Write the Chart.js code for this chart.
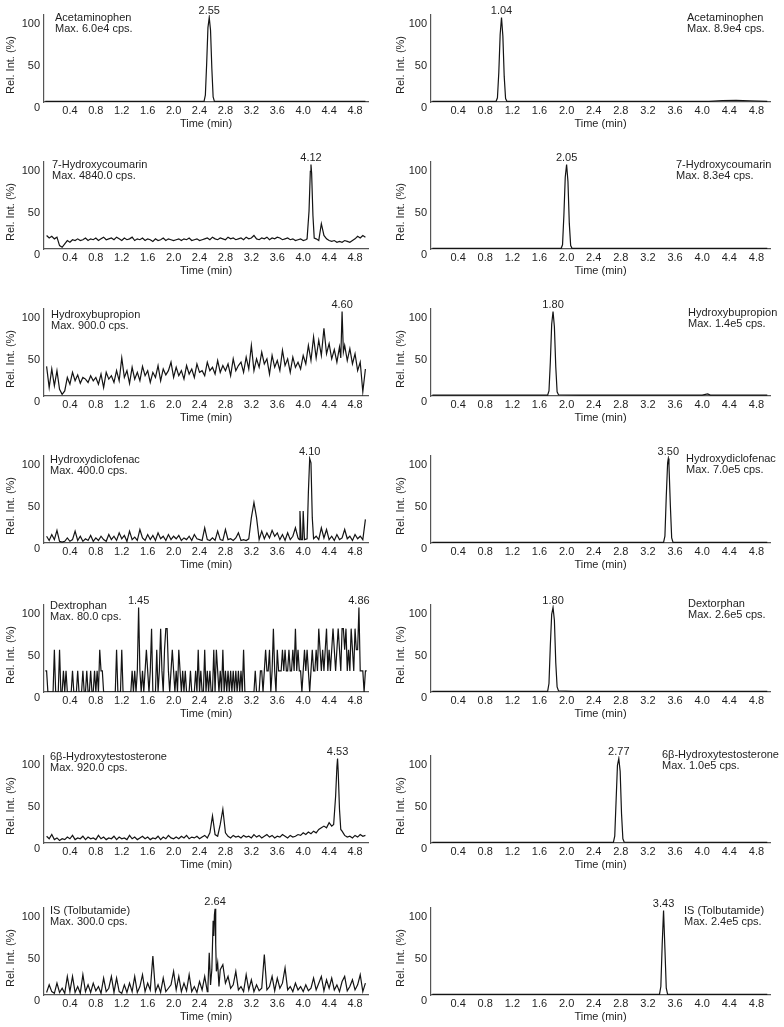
<!DOCTYPE html>
<html>
<head>
<meta charset="utf-8">
<script src="https://cdn.jsdelivr.net/npm/chart.js@4.4.0/dist/chart.umd.min.js"></script>
<style>
html, body { margin: 0; padding: 0; background: #fff; overflow: hidden; }
#wrap { position: relative; width: 784px; height: 1027px; }
canvas { position: absolute; }
</style>
</head>
<body>
<div id="wrap"></div>
<script>
// axis ticks
var timeTicks = [0.4, 0.8, 1.2, 1.6, 2.0, 2.4, 2.8, 3.2, 3.6, 4.0, 4.4, 4.8];
var intTicks = [0, 50, 100];

// noisy blank traces (left column): one reading every 0.04 min, 0.04 .. 4.96
var gridStart = 0.04, gridStep = 0.04;

var coumarinNoise = [
  16,13,15,12,14,4,2,6,10,8,11,10,12,10,11,13,10,12,11,13,10,12,14,11,12,
  13,11,14,12,10,13,11,12,14,10,12,11,13,10,12,11,9,12,10,11,13,10,12,11,10,
  11,12,10,12,11,13,10,11,12,10,11,12,13,11,14,12,11,13,12,11,14,12,13,11,12,
  13,11,14,12,13,16,12,11,13,12,14,11,13,12,14,13,11,12,13,11,12,10,11,12,10,
  11,12,100,12,12,10,30,16,12,10,9,10,8,9,8,10,9,8,10,12,15,13,16,14
];
var coumarinPeak = [[4.06,12],[4.09,45],[4.11,92],[4.12,100],[4.13,90],[4.15,40],[4.17,13]];

var bupropionNoise = [
  35,10,32,12,30,8,2,6,22,14,28,18,25,15,22,20,16,24,18,22,14,26,10,28,20,
  24,16,30,18,45,22,30,15,34,20,28,18,35,24,30,16,28,22,36,18,32,25,30,40,22,
  34,24,30,20,36,26,32,22,38,28,30,24,40,30,34,26,42,28,36,30,38,24,44,30,36,
  40,28,46,32,60,30,44,34,52,38,44,26,48,34,42,30,54,36,44,28,46,34,40,32,48,
  38,60,42,70,45,66,48,80,50,62,44,55,40,58,100,60,42,56,38,50,30,40,5,32
];
var bupropionPeak = [[4.58,45],[4.60,100],[4.62,52]];

var diclofenacNoise = [
  8,3,10,4,15,2,1,2,6,2,4,14,3,8,2,5,3,9,2,6,3,8,4,2,10,
  4,8,3,12,5,9,2,14,4,7,3,16,6,3,10,4,9,3,12,5,8,3,10,4,8,
  5,9,3,6,4,8,3,10,5,4,3,18,4,3,6,3,14,4,3,16,4,5,3,6,12,
  3,4,3,5,30,48,30,4,14,5,12,6,15,8,12,4,10,3,12,4,8,18,6,38,38,
  5,60,95,5,8,4,18,6,16,4,8,3,10,4,6,16,5,8,3,10,5,8,4,28
];
var diclofenacPeak = [[3.94,4],[3.95,38],[3.97,4],[3.99,4],[4.00,38],[4.02,4],[4.06,5],[4.08,60],[4.10,100],[4.12,95],[4.14,30],[4.16,5]];

var testosteroneNoise = [
  8,5,10,4,6,3,5,4,7,5,9,4,6,5,8,4,7,5,6,4,9,5,7,4,6,
  5,8,4,7,5,6,4,9,5,7,4,6,8,5,7,4,6,5,8,4,7,5,9,6,5,
  7,5,8,6,9,5,7,6,8,5,7,9,6,12,32,10,8,22,40,12,8,6,9,7,8,
  6,9,7,8,6,10,7,9,6,8,10,7,9,6,8,7,10,8,6,9,7,8,10,9,12,
  10,13,11,14,12,16,18,20,18,24,20,40,90,40,14,9,7,8,6,9,7,10,8,9
];
var testosteronePeak = [[4.47,22],[4.50,55],[4.52,90],[4.53,100],[4.54,85],[4.56,40],[4.58,16]];

var tolbutamideNoise = [
  3,12,4,2,14,3,8,2,22,4,22,3,10,2,24,4,12,3,14,5,10,2,20,4,8,
  22,3,20,4,2,12,3,14,4,22,3,10,24,4,14,6,46,4,12,3,20,4,8,12,28,
  6,22,4,14,5,24,4,10,3,16,6,22,4,50,90,100,38,30,36,14,22,8,12,28,6,
  10,4,24,6,18,4,12,5,8,48,6,10,22,5,20,8,14,32,6,10,4,14,6,10,4,
  12,5,8,20,6,14,22,5,18,8,20,6,12,4,16,22,5,10,18,6,12,24,4,14
];
var tolbutamidePeak = [[2.53,10],[2.55,50],[2.57,12],[2.59,30],[2.61,88],[2.62,70],[2.63,95],[2.64,102],[2.65,60],[2.66,28],[2.68,38],[2.70,10]];

// dextrophan blank: ion counts every 0.02 min (0.02 .. 4.98), one count = 20 cps = 25 %
var dextroStart = 0.02, dextroStep = 0.02, dextroUnit = 25;
var dextroCounts =
  "1100000200" + "0200101000" + "0100010001" + "0010010010" + "1021100000" +
  "0000020002" + "0000000101" + "0141010121" + "0130002013" + "1023310121" +
  "0102101010" + "0010001020" + "1002010100" + "2021010201" + "0101010101" +
  "0102000000" + "0010001101" + "2112013102" + "1112121121" + "1213121101" +
  "2121012112" + "1321212312" + "1232123213" + "3231213213" + "224111011";

// clean traces, [time, rel. int.]
var acetBlank = [[0.02,0.8],[2.47,0.8],[2.49,8],[2.51,45],[2.53,88],[2.55,100],[2.57,85],[2.59,40],[2.61,6],[2.63,0.8],[4.96,0.8]];
var acetStd = [[0.02,0.8],[0.96,0.8],[0.98,5],[1.00,35],[1.02,80],[1.04,100],[1.06,78],[1.08,30],[1.10,4],[1.12,0.8],[4.10,0.8],[4.30,1.8],[4.50,2],[4.70,1.5],[4.96,0.8]];
var coumarinStd = [[0.02,0.8],[1.92,0.8],[1.94,5],[1.96,40],[1.98,85],[2.00,100],[2.02,80],[2.04,30],[2.06,4],[2.08,0.8],[4.96,0.8]];
var bupropionStd = [[0.02,1],[1.72,1],[1.74,6],[1.76,40],[1.78,85],[1.80,100],[1.82,82],[1.84,35],[1.86,5],[1.88,1.5],[2.20,1],[4.00,1],[4.08,2.5],[4.12,1],[4.96,1]];
var diclofenacStd = [[0.02,0.8],[3.43,0.8],[3.45,8],[3.47,55],[3.49,95],[3.50,100],[3.51,92],[3.53,45],[3.55,6],[3.57,0.8],[4.96,0.8]];
var dextroStd = [[0.02,0.8],[1.72,0.8],[1.74,10],[1.76,55],[1.78,92],[1.80,100],[1.82,85],[1.84,35],[1.86,6],[1.88,1.5],[2.10,0.8],[4.96,0.8]];
var testosteroneStd = [[0.02,0.8],[2.69,0.8],[2.71,8],[2.73,50],[2.75,92],[2.77,100],[2.79,85],[2.81,35],[2.83,5],[2.85,1],[4.96,0.8]];
var tolbutamideStd = [[0.02,0.8],[3.37,0.8],[3.39,10],[3.41,60],[3.43,100],[3.45,55],[3.47,8],[3.49,0.8],[4.96,0.8]];

function pairs(arr) {
  return arr.map(function (p) { return { x: p[0], y: p[1] }; });
}

// grid readings plus the hand-read peak points (grid points under the peak are dropped)
function noisy(noise, peak) {
  var lo = peak[0][0] - 0.001, hi = peak[peak.length - 1][0] + 0.001;
  var pts = [];
  noise.forEach(function (v, i) {
    var t = +(gridStart + i * gridStep).toFixed(2);
    if (t < lo || t > hi) pts.push({ x: t, y: v });
  });
  return pts.concat(pairs(peak)).sort(function (a, b) { return a.x - b.x; });
}

function counts(str) {
  var pts = [];
  for (var i = 0; i < str.length; i++) {
    pts.push({ x: +(dextroStart + i * dextroStep).toFixed(2), y: +str[i] * dextroUnit });
  }
  return pts;
}

var panels = [
  { col: 0, row: 0, name: 'Acetaminophen', max: 'Max. 6.0e4 cps.', pts: pairs(acetBlank), peaks: [[2.55, '2.55']], tx: 55, ty: 18 },
  { col: 1, row: 0, name: 'Acetaminophen', max: 'Max. 8.9e4 cps.', pts: pairs(acetStd), peaks: [[1.04, '1.04']], tx: 297, ty: 18 },
  { col: 0, row: 1, name: '7-Hydroxycoumarin', max: 'Max. 4840.0 cps.', pts: noisy(coumarinNoise, coumarinPeak), peaks: [[4.12, '4.12']], tx: 52, ty: 18 },
  { col: 1, row: 1, name: '7-Hydroxycoumarin', max: 'Max. 8.3e4 cps.', pts: pairs(coumarinStd), peaks: [[2.00, '2.05']], tx: 286, ty: 18 },
  { col: 0, row: 2, name: 'Hydroxybupropion', max: 'Max. 900.0 cps.', pts: noisy(bupropionNoise, bupropionPeak), peaks: [[4.60, '4.60']], tx: 51, ty: 21 },
  { col: 1, row: 2, name: 'Hydroxybupropion', max: 'Max. 1.4e5 cps.', pts: pairs(bupropionStd), peaks: [[1.80, '1.80']], tx: 298, ty: 19 },
  { col: 0, row: 3, name: 'Hydroxydiclofenac', max: 'Max. 400.0 cps.', pts: noisy(diclofenacNoise, diclofenacPeak), peaks: [[4.10, '4.10']], tx: 50, ty: 19 },
  { col: 1, row: 3, name: 'Hydroxydiclofenac', max: 'Max. 7.0e5 cps.', pts: pairs(diclofenacStd), peaks: [[3.50, '3.50']], tx: 296, ty: 18 },
  { col: 0, row: 4, name: 'Dextrophan', max: 'Max. 80.0 cps.', pts: counts(dextroCounts), peaks: [[1.46, '1.45'], [4.86, '4.86']], tx: 50, ty: 16 },
  { col: 1, row: 4, name: 'Dextorphan', max: 'Max. 2.6e5 cps.', pts: pairs(dextroStd), peaks: [[1.80, '1.80']], tx: 298, ty: 14 },
  { col: 0, row: 5, name: '6\u03b2-Hydroxytestosterone', max: 'Max. 920.0 cps.', pts: noisy(testosteroneNoise, testosteronePeak), peaks: [[4.53, '4.53']], tx: 50, ty: 16 },
  { col: 1, row: 5, name: '6\u03b2-Hydroxytestosterone', max: 'Max. 1.0e5 cps.', pts: pairs(testosteroneStd), peaks: [[2.77, '2.77']], tx: 272, ty: 14 },
  { col: 0, row: 6, name: 'IS (Tolbutamide)', max: 'Max. 300.0 cps.', pts: noisy(tolbutamideNoise, tolbutamidePeak), peaks: [[2.64, '2.64']], tx: 50, ty: 18 },
  { col: 1, row: 6, name: 'IS (Tolbutamide)', max: 'Max. 2.4e5 cps.', pts: pairs(tolbutamideStd), peaks: [[3.43, '3.43']], tx: 294, ty: 18 }
];

var rowTop = [0, 147, 294, 441, 590, 741, 893];
var FONT = '"Liberation Sans", Arial, Helvetica, sans-serif';
var INK = '#1e1e1e';
Chart.defaults.font.family = FONT;
Chart.defaults.color = INK;

function textPlugin(p) {
  return {
    id: 'panelText',
    afterDraw: function (chart) {
      var ctx = chart.ctx, area = chart.chartArea;
      var xs = chart.scales.x, ys = chart.scales.y;
      ctx.save();
      ctx.fillStyle = INK;
      ctx.font = '11px ' + FONT;
      ctx.textAlign = 'left';
      ctx.textBaseline = 'middle';
      ctx.fillText(p.name, p.tx, p.ty);
      ctx.fillText(p.max, p.tx, p.ty + 11);
      // retention time labels above the peaks
      ctx.textAlign = 'center';
      ctx.textBaseline = 'bottom';
      p.peaks.forEach(function (pk) {
        var top = 0;
        p.pts.forEach(function (q) {
          if (Math.abs(q.x - pk[0]) <= 0.03 && q.y > top) top = q.y;
        });
        ctx.fillText(pk[1], xs.getPixelForValue(pk[0]), ys.getPixelForValue(top) - 1);
      });
      // y axis title
      ctx.translate(10.5, area.bottom - 37);
      ctx.rotate(-Math.PI / 2);
      ctx.textBaseline = 'middle';
      ctx.fillText('Rel. Int. (%)', 0, 0);
      ctx.restore();
    }
  };
}

var wrap = document.getElementById('wrap');
panels.forEach(function (p) {
  var w = p.col ? 394 : 380;
  var cv = document.createElement('canvas');
  cv.width = w;
  cv.height = 134;
  cv.style.left = (p.col ? 390 : 0) + 'px';
  cv.style.top = rowTop[p.row] + 'px';
  cv.style.width = w + 'px';
  cv.style.height = '134px';
  wrap.appendChild(cv);

  new Chart(cv, {
    type: 'line',
    data: {
      datasets: [{
        data: p.pts,
        borderColor: '#141414',
        borderWidth: 1.2,
        pointRadius: 0,
        tension: 0,
        fill: false
      }]
    },
    options: {
      responsive: false,
      animation: false,
      events: [],
      layout: { padding: { top: 15, right: p.col ? 14 : 12, bottom: 3, left: 0 } },
      plugins: { legend: { display: false }, tooltip: { enabled: false } },
      scales: {
        x: {
          type: 'linear',
          min: 0,
          max: 5,
          grid: { display: false, drawTicks: false },
          border: { display: true, color: '#555', width: 1.2 },
          ticks: {
            font: { size: 11 }, color: INK, padding: 2, maxRotation: 0, autoSkip: false,
            callback: function (v) { return Number(v).toFixed(1); }
          },
          afterBuildTicks: function (s) { s.ticks = timeTicks.map(function (v) { return { value: v }; }); },
          afterFit: function (s) { s.height = 29; },
          title: { display: true, text: 'Time (min)', font: { size: 11 }, color: INK, padding: 0 }
        },
        y: {
          min: 0,
          max: 103,
          grid: { display: false, drawTicks: false },
          border: { display: true, color: '#555', width: 1.2 },
          ticks: { font: { size: 11 }, color: INK, padding: 4, labelOffset: 6 },
          afterBuildTicks: function (s) { s.ticks = intTicks.map(function (v) { return { value: v }; }); },
          afterFit: function (s) { s.width = p.col ? 41 : 44; }
        }
      }
    },
    plugins: [textPlugin(p)]
  });
});
</script>
</body>
</html>
